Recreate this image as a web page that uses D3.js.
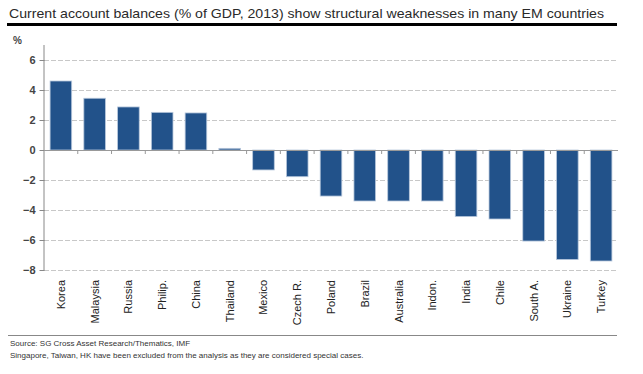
<!DOCTYPE html>
<html>
<head>
<meta charset="utf-8">
<script src="https://cdn.jsdelivr.net/npm/d3@7"></script>
<style>
	body { margin: 0; background: #fff; }
	text { font-family: "Liberation Sans", Arial, sans-serif; }
</style>
</head>
<body>
<script>
var countries = ["Korea", "Malaysia", "Russia", "Philip.", "China", "Thailand", "Mexico", "Czech R.",
	"Poland", "Brazil", "Australia", "Indon.", "India", "Chile", "South A.", "Ukraine", "Turkey"];
var balances = [4.6, 3.45, 2.87, 2.51, 2.47, 0.11, -1.33, -1.78,
	-3.07, -3.4, -3.4, -3.4, -4.44, -4.6, -6.07, -7.3, -7.4];
var yTicks = [6, 4, 2, 0, -2, -4, -6, -8];
var title = "Current account balances (% of GDP, 2013) show structural weaknesses in many EM countries";
var notes = ["Source: SG Cross Asset Research/Thematics, IMF",
	"Singapore, Taiwan, HK have been excluded from the analysis as they are considered special cases."];

var width = 643, height = 374;
var plotLeft = 44, plotRight = 618, plotTop = 60, plotBottom = 270;

var svg = d3.select("body").append("svg")
	.attr("width", width)
	.attr("height", height);

// title + heavy rule
svg.append("text")
	.attr("x", 9).attr("y", 18)
	.attr("font-size", 13)
	.attr("fill", "#2a2a2a")
	.attr("textLength", 595)
	.attr("lengthAdjust", "spacingAndGlyphs")
	.text(title);
svg.append("line")
	.attr("x1", 7).attr("x2", 617)
	.attr("y1", 24.5).attr("y2", 24.5)
	.attr("stroke", "#000").attr("stroke-width", 3);

var x = d3.scaleBand()
	.domain(countries)
	.range([plotLeft, plotRight])
	.paddingInner(0.36)
	.paddingOuter(0.18);

var y = d3.scaleLinear()
	.domain([-8, 6])
	.range([plotBottom, plotTop]);

// dashed gridlines
svg.append("g")
	.selectAll("line")
	.data(yTicks.filter(function(d) { return d !== 0; }))
	.enter().append("line")
		.attr("x1", plotLeft).attr("x2", plotRight)
		.attr("y1", function(d) { return y(d) + 0.5; })
		.attr("y2", function(d) { return y(d) + 0.5; })
		.attr("stroke", "#c8c8c8")
		.attr("stroke-dasharray", "5,2");

// y axis
var yAxis = svg.append("g")
	.attr("transform", "translate(" + (plotLeft + 0.5) + ",0)")
	.call(d3.axisLeft(y).tickValues(yTicks).tickSize(5).tickPadding(4));
yAxis.select(".domain").attr("stroke", "#888").attr("d", "M-0.5," + (plotTop - 15) + "V" + (plotBottom + 0.5));
yAxis.selectAll(".tick line").attr("stroke", "#888");
yAxis.selectAll(".tick text")
	.attr("font-size", 11)
	.attr("font-weight", "bold")
	.attr("fill", "#444");

svg.append("text")
	.attr("x", 13).attr("y", 44)
	.attr("font-size", 10)
	.attr("font-weight", "bold")
	.attr("fill", "#444")
	.text("%");

// bars
svg.append("g")
	.selectAll("rect")
	.data(balances)
	.enter().append("rect")
		.attr("x", function(d, i) { return x(countries[i]); })
		.attr("width", x.bandwidth())
		.attr("y", function(d) { return y(Math.max(0, d)); })
		.attr("height", function(d) { return Math.abs(y(d) - y(0)); })
		.attr("fill", "#22528a")
		.attr("stroke", "#b8c8dc")
		.attr("stroke-width", 0.8);

// zero line with ticks between bars
svg.append("line")
	.attr("x1", plotLeft).attr("x2", plotRight)
	.attr("y1", y(0) + 0.5).attr("y2", y(0) + 0.5)
	.attr("stroke", "#999");
svg.append("g")
	.selectAll("line")
	.data(countries.slice(1))
	.enter().append("line")
		.attr("x1", function(d) { return x(d) - x.step() * x.paddingInner() / 2; })
		.attr("x2", function(d) { return x(d) - x.step() * x.paddingInner() / 2; })
		.attr("y1", y(0) + 1).attr("y2", y(0) + 4)
		.attr("stroke", "#999");

// category labels, rotated
svg.append("g")
	.selectAll("text")
	.data(countries)
	.enter().append("text")
		.attr("transform", function(d) {
			return "translate(" + (x(d) + x.bandwidth() / 2 + 4) + "," + 280 + ") rotate(-90)";
		})
		.attr("text-anchor", "end")
		.attr("font-size", 11)
		.attr("fill", "#222")
		.text(function(d) { return d; });

// footer
svg.append("line")
	.attr("x1", 8).attr("x2", 617)
	.attr("y1", 335.5).attr("y2", 335.5)
	.attr("stroke", "#888");
svg.selectAll(".note")
	.data(notes)
	.enter().append("text")
		.attr("class", "note")
		.attr("x", 10)
		.attr("y", function(d, i) { return 346 + i * 12; })
		.attr("font-size", 8)
		.attr("fill", "#333")
		.text(function(d) { return d; });
</script>
</body>
</html>
